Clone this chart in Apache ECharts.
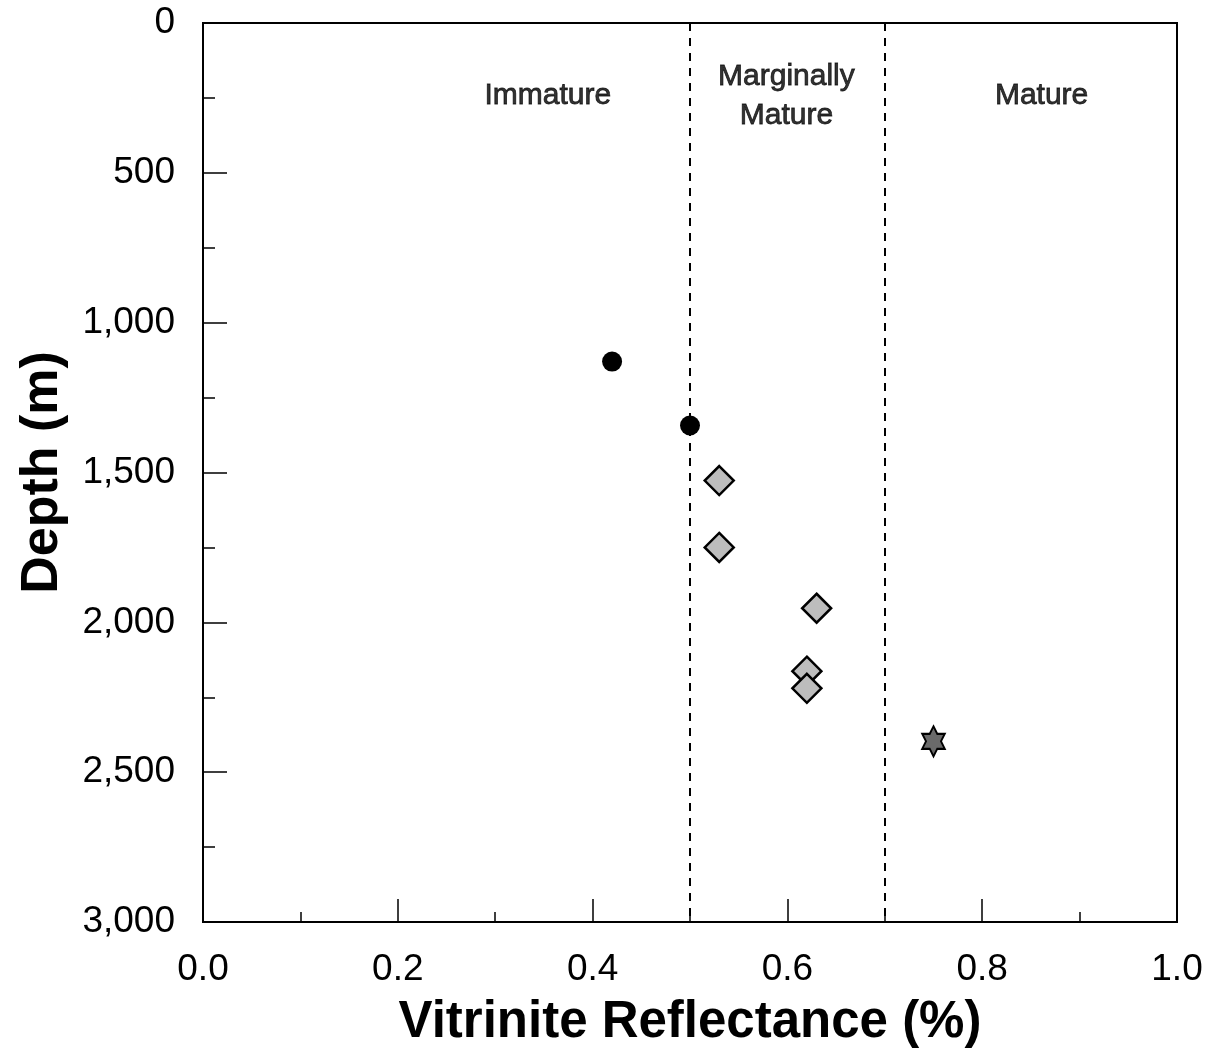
<!DOCTYPE html>
<html>
<head>
<meta charset="utf-8">
<script src="https://cdn.jsdelivr.net/npm/echarts@6/dist/echarts.min.js"></script>
<style>
  html, body { margin: 0; padding: 0; background: #fff; }
  #chart { width: 1211px; height: 1053px; }
</style>
</head>
<body>
<div id="chart"></div>
<script>
  // Data
  const circlePoints = [[0.42, 1130], [0.50, 1343]];
  const diamondPoints = [[0.53, 1527], [0.53, 1750], [0.63, 1953], [0.62, 2163], [0.62, 2220]];
  const starPoints = [[0.75, 2397]];
  const zoneBoundaries = [0.5, 0.7];
  const zoneLabels = [
    { name: 'Immature', value: [0.354, 243] },
    { name: 'Marginally\nMature', value: [0.599, 243] },
    { name: 'Mature', value: [0.861, 243] }
  ];

  const starPath = 'path://M100,0 L128.9,50 L186.6,50 L157.7,100 L186.6,150 L128.9,150 L100,200 L71.1,150 L13.4,150 L42.3,100 L13.4,50 L71.1,50 Z';

  const font = 'Liberation Sans, Arial, sans-serif';
  const chart = echarts.init(document.getElementById('chart'));

  chart.setOption({
    animation: false,
    backgroundColor: '#fff',
    grid: {
      left: 203,
      right: 34,
      top: 23,
      bottom: 131,
      show: true,
      borderColor: '#000',
      borderWidth: 2
    },
    xAxis: {
      type: 'value',
      position: 'bottom',
      min: 0,
      max: 1,
      interval: 0.2,
      name: 'Vitrinite Reflectance (%)',
      nameLocation: 'middle',
      nameGap: 75,
      nameTextStyle: { fontFamily: font, fontWeight: 'bold', fontSize: 51, color: '#000' },
      axisLine: { onZero: false, lineStyle: { color: '#000', width: 2 } },
      axisTick: { inside: true, length: 23, lineStyle: { color: '#000', width: 1.5 } },
      minorTick: { show: true, splitNumber: 2, length: 10, lineStyle: { color: '#000', width: 1.5 } },
      splitLine: { show: false },
      axisLabel: {
        fontFamily: font,
        fontSize: 37,
        color: '#000',
        margin: 29,
        formatter: v => v.toFixed(1)
      }
    },
    yAxis: {
      type: 'value',
      inverse: true,
      min: 0,
      max: 3000,
      interval: 500,
      name: 'Depth (m)',
      nameLocation: 'middle',
      nameGap: 134,
      nameTextStyle: { fontFamily: font, fontWeight: 'bold', fontSize: 52, color: '#000' },
      axisLine: { lineStyle: { color: '#000', width: 2 } },
      axisTick: { inside: true, length: 24, lineStyle: { color: '#000', width: 1.5 } },
      minorTick: { show: true, splitNumber: 2, length: 12, lineStyle: { color: '#000', width: 1.5 } },
      splitLine: { show: false },
      axisLabel: {
        fontFamily: font,
        fontSize: 37,
        color: '#000',
        margin: 28,
        formatter: v => v.toLocaleString('en-US')
      }
    },
    series: [
      {
        type: 'scatter',
        name: 'zones',
        data: zoneLabels,
        symbolSize: 0,
        silent: true,
        label: {
          show: true,
          position: 'inside',
          formatter: p => p.name,
          fontFamily: font,
          fontSize: 30,
          lineHeight: 39,
          color: '#000',
          textBorderColor: '#000',
          textBorderWidth: 0.8
        },
        markLine: {
          silent: true,
          symbol: 'none',
          label: { show: false },
          lineStyle: { color: '#000', type: [8, 7], width: 2 },
          data: zoneBoundaries.map(v => ({ xAxis: v }))
        }
      },
      {
        type: 'scatter',
        name: 'circles',
        data: circlePoints,
        symbol: 'circle',
        symbolSize: 20,
        itemStyle: { color: '#000', opacity: 1 }
      },
      {
        type: 'scatter',
        name: 'diamonds',
        data: diamondPoints,
        symbol: 'diamond',
        symbolSize: 29,
        itemStyle: { color: '#bdbdbd', borderColor: '#000', borderWidth: 2.5, opacity: 1 }
      },
      {
        type: 'scatter',
        name: 'stars',
        data: starPoints,
        symbol: starPath,
        symbolKeepAspect: true,
        symbolSize: [26, 30],
        itemStyle: { color: '#6a6a6a', borderColor: '#000', borderWidth: 2, opacity: 1 }
      }
    ]
  });
</script>
</body>
</html>
